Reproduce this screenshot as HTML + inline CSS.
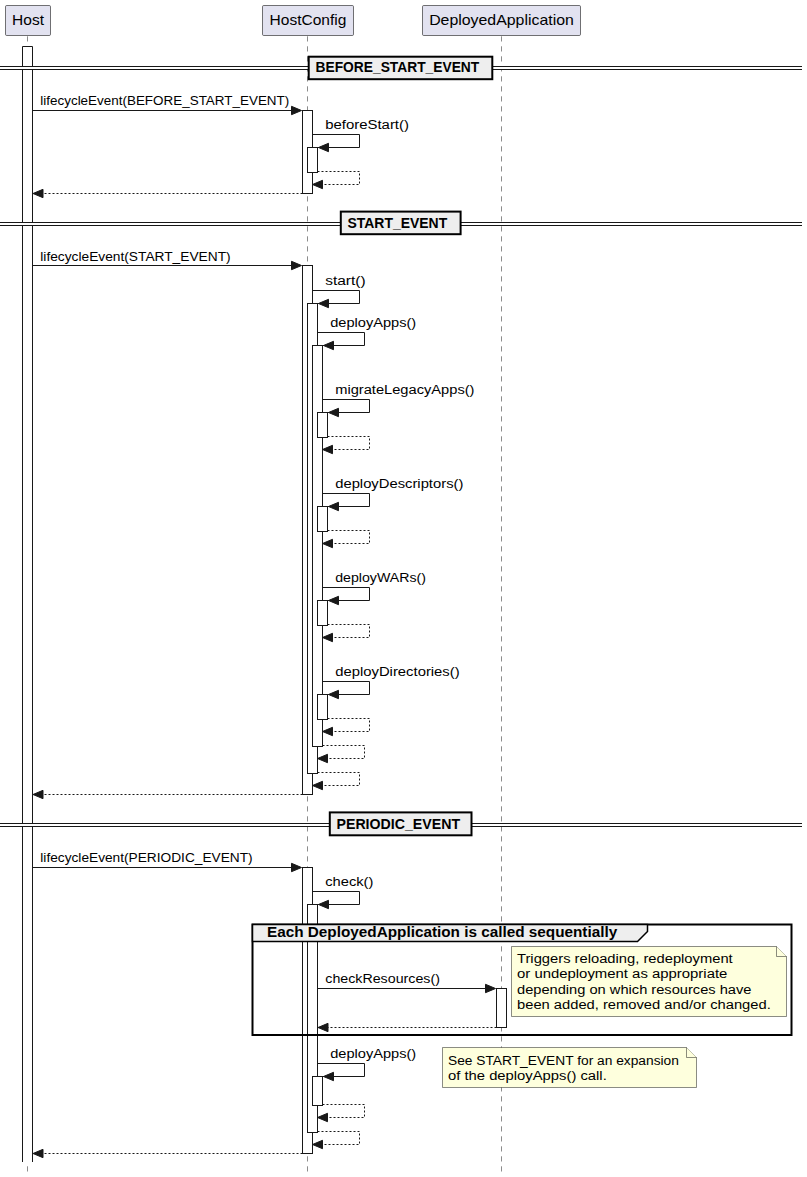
<!DOCTYPE html>
<html><head><meta charset="utf-8"><style>
html,body{margin:0;padding:0;background:#FFFFFF;}
svg{display:block;}
text{font-family:"Liberation Sans",sans-serif;fill:#000000;}
</style></head><body>
<svg width="807" height="1177" viewBox="0 0 807 1177">
<rect x="0" y="0" width="807" height="1177" fill="#FFFFFF"/>
<line x1="27.5" y1="36.3" x2="27.5" y2="1172" stroke="#181818" stroke-width="0.5" stroke-dasharray="5.2,4.8"/>
<line x1="307.5" y1="36.3" x2="307.5" y2="1172" stroke="#181818" stroke-width="0.5" stroke-dasharray="5.2,4.8"/>
<line x1="501.5" y1="36.3" x2="501.5" y2="1172" stroke="#181818" stroke-width="0.5" stroke-dasharray="5.2,4.8"/>
<rect x="5.5" y="5.5" width="45" height="30" rx="1.2" fill="#E2E2F0" stroke="#181818" stroke-width="0.6"/>
<text x="12.0625" y="25" font-size="14.4" font-weight="normal" textLength="31.88" lengthAdjust="spacingAndGlyphs">Host</text>
<rect x="262.5" y="5.5" width="91" height="30" rx="1.2" fill="#E2E2F0" stroke="#181818" stroke-width="0.6"/>
<text x="269.6015625" y="25" font-size="14.4" font-weight="normal" textLength="76.80" lengthAdjust="spacingAndGlyphs">HostConfig</text>
<rect x="422.5" y="5.5" width="158" height="30" rx="1.2" fill="#E2E2F0" stroke="#181818" stroke-width="0.6"/>
<text x="429.125" y="25" font-size="14.4" font-weight="normal" textLength="144.75" lengthAdjust="spacingAndGlyphs">DeployedApplication</text>
<path d="M22.5,1162 L22.5,46.5 L32.5,46.5 L32.5,1162" fill="#FFFFFF" stroke="#181818" stroke-width="1"/>
<line x1="0" y1="66.5" x2="802" y2="66.5" stroke="#181818" stroke-width="1"/>
<line x1="0" y1="69.5" x2="802" y2="69.5" stroke="#181818" stroke-width="1"/>
<rect x="0" y="67" width="802" height="2" rx="0" fill="#FFFFFF" stroke="none" stroke-width="0"/>
<rect x="308.7" y="56.7" width="183.60000000000002" height="22.5" rx="0" fill="#EEEEEE" stroke="#000000" stroke-width="2"/>
<text x="315.5" y="72" font-size="14.0" font-weight="bold" textLength="163.75" lengthAdjust="spacingAndGlyphs">BEFORE_START_EVENT</text>
<rect x="302.5" y="110.5" width="10" height="83" rx="0" fill="#FFFFFF" stroke="#181818" stroke-width="1"/>
<line x1="32.5" y1="110.5" x2="300.5" y2="110.5" stroke="#181818" stroke-width="1"/>
<polygon points="291.5,106.3 301.5,110.5 291.5,114.7" fill="#181818" stroke="#181818" stroke-width="1"/>
<text x="40.3" y="104.8" font-size="13.7" font-weight="normal" textLength="248.94" lengthAdjust="spacingAndGlyphs">lifecycleEvent(BEFORE_START_EVENT)</text>
<rect x="307.5" y="147.5" width="10" height="25" rx="0" fill="#FFFFFF" stroke="#181818" stroke-width="1"/>
<path d="M312.5,134.5 L359.5,134.5 L359.5,147.5 L317.5,147.5" fill="none" stroke="#181818" stroke-width="1"/>
<polygon points="328.5,143.3 318.5,147.5 328.5,151.7" fill="#181818" stroke="#181818" stroke-width="1"/>
<text x="325.2" y="129.4" font-size="13.7" font-weight="normal" textLength="83.75" lengthAdjust="spacingAndGlyphs">beforeStart()</text>
<path d="M317.5,171.5 L359.5,171.5 L359.5,184.5 L313.5,184.5" fill="none" stroke="#181818" stroke-width="1" stroke-dasharray="2,2"/>
<polygon points="322.5,180.3 312.5,184.5 322.5,188.7" fill="#181818" stroke="#181818" stroke-width="1"/>
<line x1="302.5" y1="193.5" x2="34" y2="193.5" stroke="#181818" stroke-width="1" stroke-dasharray="2,2"/>
<polygon points="43,189.3 33,193.5 43,197.7" fill="#181818" stroke="#181818" stroke-width="1"/>
<line x1="0" y1="222.5" x2="802" y2="222.5" stroke="#181818" stroke-width="1"/>
<line x1="0" y1="225.5" x2="802" y2="225.5" stroke="#181818" stroke-width="1"/>
<rect x="0" y="223" width="802" height="2" rx="0" fill="#FFFFFF" stroke="none" stroke-width="0"/>
<rect x="340.8" y="211.6" width="119.80000000000001" height="22.599999999999994" rx="0" fill="#EEEEEE" stroke="#000000" stroke-width="2"/>
<text x="347.5" y="228" font-size="14.0" font-weight="bold" textLength="99.66" lengthAdjust="spacingAndGlyphs">START_EVENT</text>
<rect x="302.5" y="265.5" width="10" height="529" rx="0" fill="#FFFFFF" stroke="#181818" stroke-width="1"/>
<line x1="32.5" y1="265.5" x2="300.5" y2="265.5" stroke="#181818" stroke-width="1"/>
<polygon points="291.5,261.3 301.5,265.5 291.5,269.7" fill="#181818" stroke="#181818" stroke-width="1"/>
<text x="40.3" y="260.8" font-size="13.7" font-weight="normal" textLength="190.33" lengthAdjust="spacingAndGlyphs">lifecycleEvent(START_EVENT)</text>
<rect x="307.5" y="303.5" width="10" height="470" rx="0" fill="#FFFFFF" stroke="#181818" stroke-width="1"/>
<path d="M312.5,290.5 L359.5,290.5 L359.5,303.5 L317.5,303.5" fill="none" stroke="#181818" stroke-width="1"/>
<polygon points="328.5,299.3 318.5,303.5 328.5,307.7" fill="#181818" stroke="#181818" stroke-width="1"/>
<text x="325.2" y="285.4" font-size="13.7" font-weight="normal" textLength="40.42" lengthAdjust="spacingAndGlyphs">start()</text>
<rect x="312.5" y="345.5" width="10" height="401" rx="0" fill="#FFFFFF" stroke="#181818" stroke-width="1"/>
<path d="M317.5,332.5 L364.5,332.5 L364.5,345.5 L322.5,345.5" fill="none" stroke="#181818" stroke-width="1"/>
<polygon points="333.5,341.3 323.5,345.5 333.5,349.7" fill="#181818" stroke="#181818" stroke-width="1"/>
<text x="330.2" y="327.4" font-size="13.7" font-weight="normal" textLength="86.06" lengthAdjust="spacingAndGlyphs">deployApps()</text>
<rect x="317.5" y="412.5" width="10" height="25" rx="0" fill="#FFFFFF" stroke="#181818" stroke-width="1"/>
<path d="M322.5,399.5 L369.5,399.5 L369.5,412.5 L327.5,412.5" fill="none" stroke="#181818" stroke-width="1"/>
<polygon points="338.5,408.3 328.5,412.5 338.5,416.7" fill="#181818" stroke="#181818" stroke-width="1"/>
<text x="335.2" y="394.4" font-size="13.7" font-weight="normal" textLength="139.30" lengthAdjust="spacingAndGlyphs">migrateLegacyApps()</text>
<path d="M327.5,436.5 L369.5,436.5 L369.5,449.5 L323.5,449.5" fill="none" stroke="#181818" stroke-width="1" stroke-dasharray="2,2"/>
<polygon points="332.5,445.3 322.5,449.5 332.5,453.7" fill="#181818" stroke="#181818" stroke-width="1"/>
<rect x="317.5" y="506.5" width="10" height="25" rx="0" fill="#FFFFFF" stroke="#181818" stroke-width="1"/>
<path d="M322.5,493.5 L369.5,493.5 L369.5,506.5 L327.5,506.5" fill="none" stroke="#181818" stroke-width="1"/>
<polygon points="338.5,502.3 328.5,506.5 338.5,510.7" fill="#181818" stroke="#181818" stroke-width="1"/>
<text x="335.2" y="488.4" font-size="13.7" font-weight="normal" textLength="128.19" lengthAdjust="spacingAndGlyphs">deployDescriptors()</text>
<path d="M327.5,530.5 L369.5,530.5 L369.5,543.5 L323.5,543.5" fill="none" stroke="#181818" stroke-width="1" stroke-dasharray="2,2"/>
<polygon points="332.5,539.3 322.5,543.5 332.5,547.7" fill="#181818" stroke="#181818" stroke-width="1"/>
<rect x="317.5" y="600.5" width="10" height="25" rx="0" fill="#FFFFFF" stroke="#181818" stroke-width="1"/>
<path d="M322.5,587.5 L369.5,587.5 L369.5,600.5 L327.5,600.5" fill="none" stroke="#181818" stroke-width="1"/>
<polygon points="338.5,596.3 328.5,600.5 338.5,604.7" fill="#181818" stroke="#181818" stroke-width="1"/>
<text x="335.2" y="582.4" font-size="13.7" font-weight="normal" textLength="90.75" lengthAdjust="spacingAndGlyphs">deployWARs()</text>
<path d="M327.5,624.5 L369.5,624.5 L369.5,637.5 L323.5,637.5" fill="none" stroke="#181818" stroke-width="1" stroke-dasharray="2,2"/>
<polygon points="332.5,633.3 322.5,637.5 332.5,641.7" fill="#181818" stroke="#181818" stroke-width="1"/>
<rect x="317.5" y="694.5" width="10" height="25" rx="0" fill="#FFFFFF" stroke="#181818" stroke-width="1"/>
<path d="M322.5,681.5 L369.5,681.5 L369.5,694.5 L327.5,694.5" fill="none" stroke="#181818" stroke-width="1"/>
<polygon points="338.5,690.3 328.5,694.5 338.5,698.7" fill="#181818" stroke="#181818" stroke-width="1"/>
<text x="335.2" y="676.4" font-size="13.7" font-weight="normal" textLength="124.50" lengthAdjust="spacingAndGlyphs">deployDirectories()</text>
<path d="M327.5,718.5 L369.5,718.5 L369.5,731.5 L323.5,731.5" fill="none" stroke="#181818" stroke-width="1" stroke-dasharray="2,2"/>
<polygon points="332.5,727.3 322.5,731.5 332.5,735.7" fill="#181818" stroke="#181818" stroke-width="1"/>
<path d="M322.5,745.5 L364.5,745.5 L364.5,758.5 L318.5,758.5" fill="none" stroke="#181818" stroke-width="1" stroke-dasharray="2,2"/>
<polygon points="327.5,754.3 317.5,758.5 327.5,762.7" fill="#181818" stroke="#181818" stroke-width="1"/>
<path d="M317.5,772.5 L359.5,772.5 L359.5,785.5 L313.5,785.5" fill="none" stroke="#181818" stroke-width="1" stroke-dasharray="2,2"/>
<polygon points="322.5,781.3 312.5,785.5 322.5,789.7" fill="#181818" stroke="#181818" stroke-width="1"/>
<line x1="302.5" y1="794.5" x2="34" y2="794.5" stroke="#181818" stroke-width="1" stroke-dasharray="2,2"/>
<polygon points="43,790.3 33,794.5 43,798.7" fill="#181818" stroke="#181818" stroke-width="1"/>
<line x1="0" y1="823.5" x2="802" y2="823.5" stroke="#181818" stroke-width="1"/>
<line x1="0" y1="826.5" x2="802" y2="826.5" stroke="#181818" stroke-width="1"/>
<rect x="0" y="824" width="802" height="2" rx="0" fill="#FFFFFF" stroke="none" stroke-width="0"/>
<rect x="329.8" y="812.4" width="141.7" height="22.899999999999977" rx="0" fill="#EEEEEE" stroke="#000000" stroke-width="2"/>
<text x="336.5" y="829" font-size="14.0" font-weight="bold" textLength="123.56" lengthAdjust="spacingAndGlyphs">PERIODIC_EVENT</text>
<rect x="302.5" y="867.5" width="10" height="286" rx="0" fill="#FFFFFF" stroke="#181818" stroke-width="1"/>
<line x1="32.5" y1="867.5" x2="300.5" y2="867.5" stroke="#181818" stroke-width="1"/>
<polygon points="291.5,863.3 301.5,867.5 291.5,871.7" fill="#181818" stroke="#181818" stroke-width="1"/>
<text x="40.3" y="861.8" font-size="13.7" font-weight="normal" textLength="212.33" lengthAdjust="spacingAndGlyphs">lifecycleEvent(PERIODIC_EVENT)</text>
<rect x="307.5" y="904.5" width="10" height="228" rx="0" fill="#FFFFFF" stroke="#181818" stroke-width="1"/>
<path d="M312.5,891.5 L359.5,891.5 L359.5,904.5 L317.5,904.5" fill="none" stroke="#181818" stroke-width="1"/>
<polygon points="328.5,900.3 318.5,904.5 328.5,908.7" fill="#181818" stroke="#181818" stroke-width="1"/>
<text x="325.2" y="886.4" font-size="13.7" font-weight="normal" textLength="48.20" lengthAdjust="spacingAndGlyphs">check()</text>
<rect x="252.5" y="924.5" width="539" height="110.5" rx="0" fill="none" stroke="#000000" stroke-width="2"/>
<polygon points="252.5,924.5 647.5,924.5 647.5,931.5 637.5,941.5 252.5,941.5" fill="#EEEEEE" stroke="#000000" stroke-width="1.5"/>
<text x="267" y="937" font-size="14.0" font-weight="bold" textLength="350.22" lengthAdjust="spacingAndGlyphs">Each DeployedApplication is called sequentially</text>
<rect x="496.5" y="988.5" width="10" height="39" rx="0" fill="#FFFFFF" stroke="#181818" stroke-width="1"/>
<line x1="317.5" y1="988.5" x2="494.5" y2="988.5" stroke="#181818" stroke-width="1"/>
<polygon points="485.5,984.3 495.5,988.5 485.5,992.7" fill="#181818" stroke="#181818" stroke-width="1"/>
<text x="325.3" y="982.8" font-size="13.7" font-weight="normal" textLength="114.58" lengthAdjust="spacingAndGlyphs">checkResources()</text>
<line x1="496.5" y1="1027.5" x2="319" y2="1027.5" stroke="#181818" stroke-width="1" stroke-dasharray="2,2"/>
<polygon points="328,1023.3 318,1027.5 328,1031.7" fill="#181818" stroke="#181818" stroke-width="1"/>
<path d="M511.5,946.5 L776.5,946.5 L786.5,956.5 L786.5,1016.5 L511.5,1016.5 Z" fill="#FEFFDD" stroke="#181818" stroke-width="0.5"/>
<path d="M776.5,946.5 L776.5,956.5 L786.5,956.5" fill="#FEFFDD" stroke="#181818" stroke-width="0.5"/>
<text x="517" y="963.0" font-size="13.7" font-weight="normal" textLength="215.70" lengthAdjust="spacingAndGlyphs">Triggers reloading, redeployment</text>
<text x="517" y="978.3" font-size="13.7" font-weight="normal" textLength="210.36" lengthAdjust="spacingAndGlyphs">or undeployment as appropriate</text>
<text x="517" y="993.6" font-size="13.7" font-weight="normal" textLength="234.48" lengthAdjust="spacingAndGlyphs">depending on which resources have</text>
<text x="517" y="1008.9" font-size="13.7" font-weight="normal" textLength="253.77" lengthAdjust="spacingAndGlyphs">been added, removed and/or changed.</text>
<rect x="312.5" y="1076.5" width="10" height="29" rx="0" fill="#FFFFFF" stroke="#181818" stroke-width="1"/>
<path d="M317.5,1063.5 L364.5,1063.5 L364.5,1076.5 L322.5,1076.5" fill="none" stroke="#181818" stroke-width="1"/>
<polygon points="333.5,1072.3 323.5,1076.5 333.5,1080.7" fill="#181818" stroke="#181818" stroke-width="1"/>
<text x="330.2" y="1058.4" font-size="13.7" font-weight="normal" textLength="86.06" lengthAdjust="spacingAndGlyphs">deployApps()</text>
<path d="M442.5,1047.5 L686.5,1047.5 L696.5,1057.5 L696.5,1087.5 L442.5,1087.5 Z" fill="#FEFFDD" stroke="#181818" stroke-width="0.5"/>
<path d="M686.5,1047.5 L686.5,1057.5 L696.5,1057.5" fill="#FEFFDD" stroke="#181818" stroke-width="0.5"/>
<text x="448" y="1065.0" font-size="13.7" font-weight="normal" textLength="230.86" lengthAdjust="spacingAndGlyphs">See START_EVENT for an expansion</text>
<text x="448" y="1080.3" font-size="13.7" font-weight="normal" textLength="158.75" lengthAdjust="spacingAndGlyphs">of the deployApps() call.</text>
<path d="M322.5,1104.5 L364.5,1104.5 L364.5,1117.5 L318.5,1117.5" fill="none" stroke="#181818" stroke-width="1" stroke-dasharray="2,2"/>
<polygon points="327.5,1113.3 317.5,1117.5 327.5,1121.7" fill="#181818" stroke="#181818" stroke-width="1"/>
<path d="M317.5,1131.5 L359.5,1131.5 L359.5,1144.5 L313.5,1144.5" fill="none" stroke="#181818" stroke-width="1" stroke-dasharray="2,2"/>
<polygon points="322.5,1140.3 312.5,1144.5 322.5,1148.7" fill="#181818" stroke="#181818" stroke-width="1"/>
<line x1="302.5" y1="1153.5" x2="34" y2="1153.5" stroke="#181818" stroke-width="1" stroke-dasharray="2,2"/>
<polygon points="43,1149.3 33,1153.5 43,1157.7" fill="#181818" stroke="#181818" stroke-width="1"/>
</svg>
</body></html>
